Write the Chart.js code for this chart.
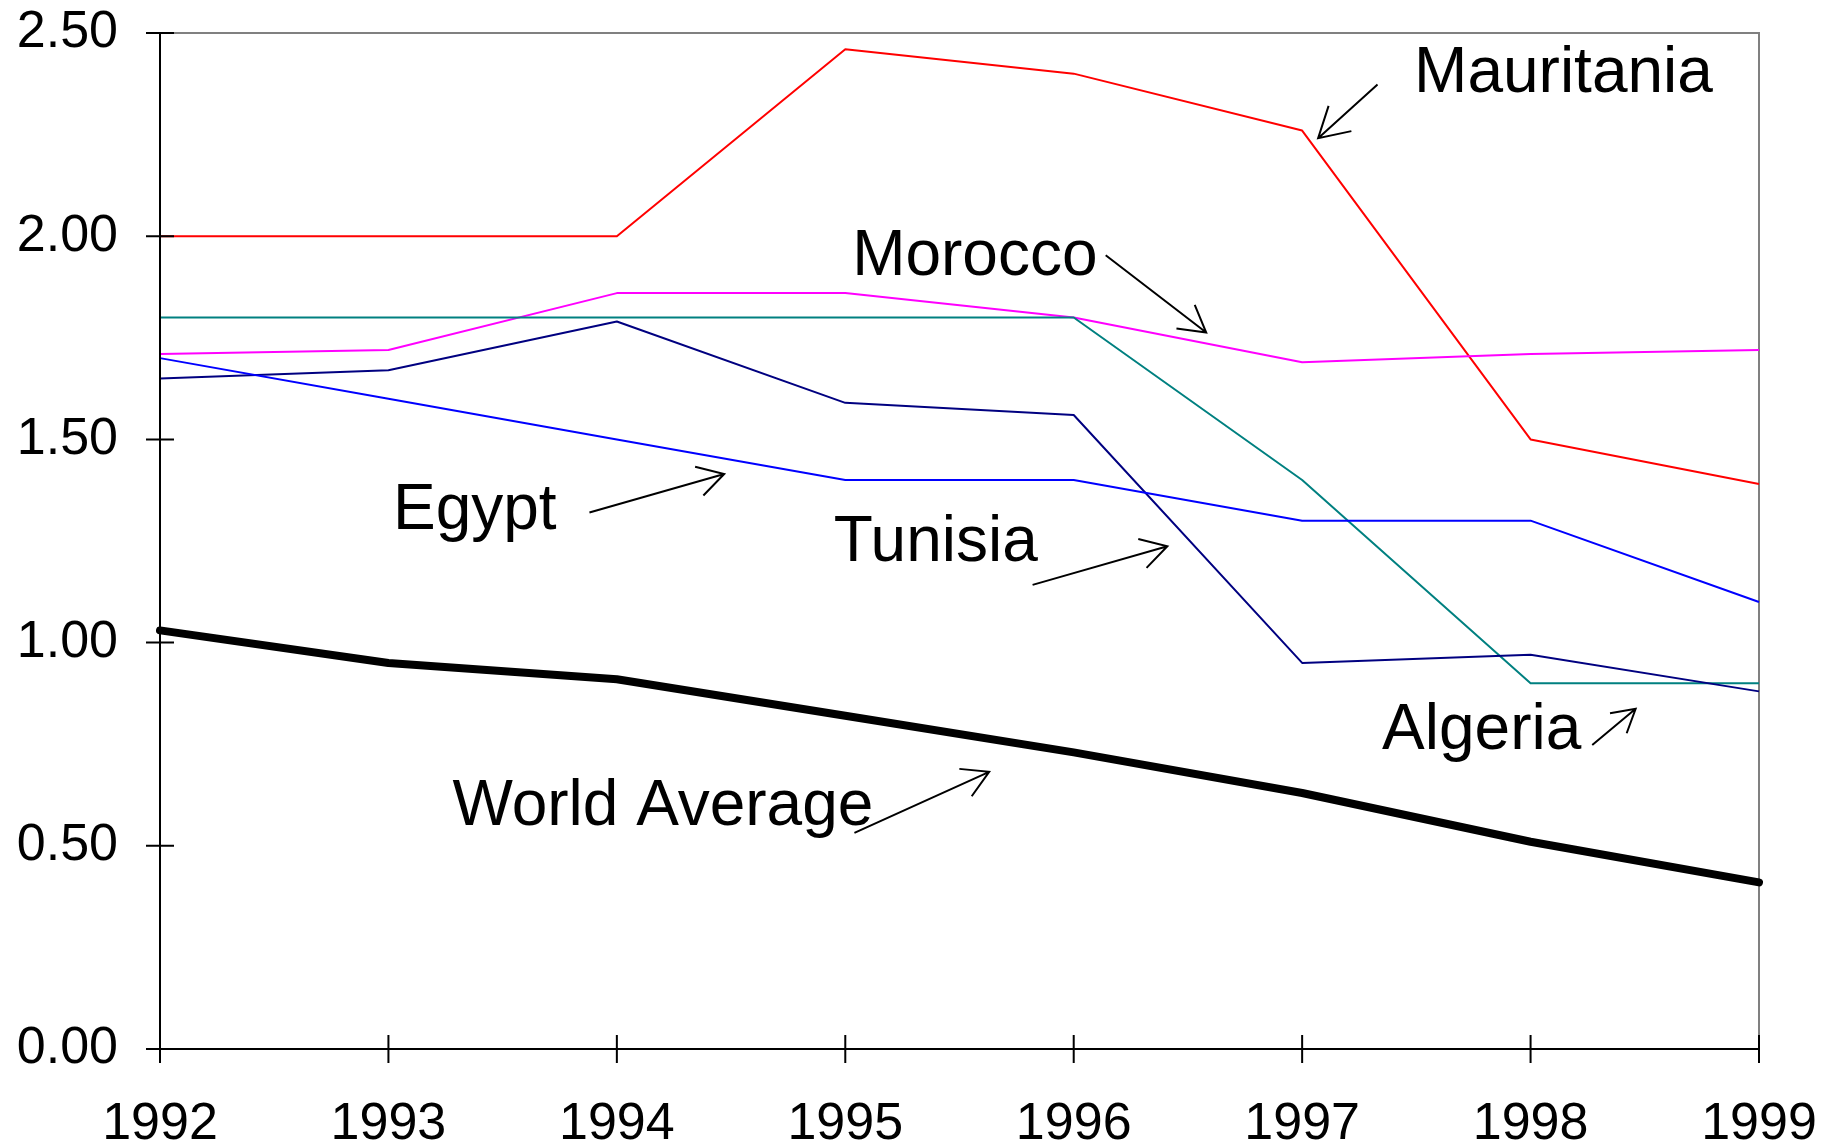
<!DOCTYPE html>
<html>
<head>
<meta charset="utf-8">
<script src="https://cdn.jsdelivr.net/npm/chart.js@4.4.1/dist/chart.umd.min.js"></script>
<style>
  html, body { margin: 0; padding: 0; background: #fff; }
  #wrap { width: 1834px; height: 1148px; }
</style>
</head>
<body>
<div id="wrap"><canvas id="chart"></canvas></div>
<script>
// values
const years = ['1992', '1993', '1994', '1995', '1996', '1997', '1998', '1999'];
const mauritania = [2.00, 2.00, 2.00, 2.46, 2.40, 2.26, 1.50, 1.39];
const morocco    = [1.71, 1.72, 1.86, 1.86, 1.80, 1.69, 1.71, 1.72];
const algeria    = [1.80, 1.80, 1.80, 1.80, 1.80, 1.40, 0.90, 0.90];
const tunisia    = [1.65, 1.67, 1.79, 1.59, 1.56, 0.95, 0.97, 0.88];
const egypt      = [1.70, 1.60, 1.50, 1.40, 1.40, 1.30, 1.30, 1.10];
const worldAvg   = [1.03, 0.95, 0.91, 0.82, 0.73, 0.63, 0.51, 0.41];
const yTicks     = [0, 0.5, 1.0, 1.5, 2.0, 2.5];

// callouts: text at [index, value] (baseline-left), arrow from -> to
const notes = [
  { text: 'Mauritania',    at: [5.49, 2.356], from: [5.33, 2.373], to: [5.07, 2.241], head: 34 },
  { text: 'Morocco',       at: [3.03, 1.905], from: [4.14, 1.953], to: [4.58, 1.763], head: 30 },
  { text: 'Egypt',         at: [1.02, 1.280], from: [1.88, 1.320], to: [2.47, 1.415], head: 30 },
  { text: 'Tunisia',       at: [2.95, 1.200], from: [3.82, 1.142], to: [4.41, 1.237], head: 30 },
  { text: 'Algeria',       at: [5.35, 0.739], from: [6.27, 0.748], to: [6.46, 0.837], head: 26 },
  { text: 'World Average', at: [1.28, 0.552], from: [3.04, 0.532], to: [3.63, 0.682], head: 30 },
];

const FONT = "'Liberation Sans', Arial, sans-serif";

const frame = {
  id: 'frame',
  beforeDatasetsDraw(chart) {
    const { ctx, chartArea: a } = chart;
    ctx.save();
    ctx.strokeStyle = '#808080';
    ctx.lineWidth = 2;
    ctx.beginPath();
    ctx.moveTo(a.left, a.top);
    ctx.lineTo(a.right, a.top);
    ctx.lineTo(a.right, a.bottom);
    ctx.stroke();
    ctx.restore();
  },
  afterDatasetsDraw(chart) {
    const { ctx, chartArea: a, scales: { x, y } } = chart;
    const t = 14;
    ctx.save();
    ctx.strokeStyle = '#000';
    ctx.lineWidth = 2;
    ctx.beginPath();
    ctx.moveTo(a.left, a.top);
    ctx.lineTo(a.left, a.bottom);
    ctx.lineTo(a.right, a.bottom);
    yTicks.forEach(v => {
      const py = y.getPixelForValue(v);
      ctx.moveTo(a.left - t, py);
      ctx.lineTo(a.left + t, py);
    });
    years.forEach((_, i) => {
      const px = x.getPixelForValue(i);
      ctx.moveTo(px, a.bottom - t);
      ctx.lineTo(px, a.bottom + t);
    });
    ctx.stroke();

    // callouts
    ctx.fillStyle = '#000';
    ctx.font = '64px ' + FONT;
    ctx.textBaseline = 'alphabetic';
    ctx.textAlign = 'left';
    notes.forEach(n => {
      ctx.fillText(n.text, x.getPixelForValue(n.at[0]), y.getPixelForValue(n.at[1]));
      const x1 = x.getPixelForValue(n.from[0]), y1 = y.getPixelForValue(n.from[1]);
      const x2 = x.getPixelForValue(n.to[0]),   y2 = y.getPixelForValue(n.to[1]);
      const ang = Math.atan2(y2 - y1, x2 - x1);
      ctx.beginPath();
      ctx.moveTo(x1, y1);
      ctx.lineTo(x2, y2);
      ctx.moveTo(x2 - n.head * Math.cos(ang - Math.PI / 6), y2 - n.head * Math.sin(ang - Math.PI / 6));
      ctx.lineTo(x2, y2);
      ctx.lineTo(x2 - n.head * Math.cos(ang + Math.PI / 6), y2 - n.head * Math.sin(ang + Math.PI / 6));
      ctx.stroke();
    });
    ctx.restore();
  },
};

const line = (label, data, color, width) => ({
  label, data,
  borderColor: color,
  borderWidth: width,
  pointRadius: 0,
  tension: 0,
  fill: false,
  borderCapStyle: width > 4 ? 'round' : 'butt',
  borderJoinStyle: 'round',
});

new Chart(document.getElementById('chart'), {
  type: 'line',
  data: {
    labels: years,
    datasets: [
      line('Egypt', egypt, '#0000FF', 2),
      line('Tunisia', tunisia, '#000080', 2),
      line('Algeria', algeria, '#008080', 2),
      line('Morocco', morocco, '#FF00FF', 2),
      line('Mauritania', mauritania, '#FF0000', 2),
      line('World Average', worldAvg, '#000000', 8),
    ],
  },
  options: {
    responsive: true,
    maintainAspectRatio: false,
    animation: false,
    layout: { padding: { left: 16, right: 75, top: 33, bottom: 0 } },
    plugins: { legend: { display: false }, tooltip: { enabled: false } },
    scales: {
      x: {
        offset: false,
        grid: { display: false, drawTicks: false },
        border: { display: false },
        ticks: { color: '#000', font: { family: FONT, size: 52 }, padding: 44, maxRotation: 0 },
        afterFit(s) { s.height = 99; s.paddingLeft = 0; s.paddingRight = 0; },
      },
      y: {
        min: 0, max: 2.5,
        grid: { display: false, drawTicks: false },
        border: { display: false },
        ticks: {
          stepSize: 0.5,
          color: '#000',
          font: { family: FONT, size: 52 },
          padding: 42,
          callback: v => Number(v).toFixed(2),
        },
        afterFit(s) { s.width = 144; s.paddingTop = 0; s.paddingBottom = 0; },
      },
    },
  },
  plugins: [frame],
});
</script>
</body>
</html>
